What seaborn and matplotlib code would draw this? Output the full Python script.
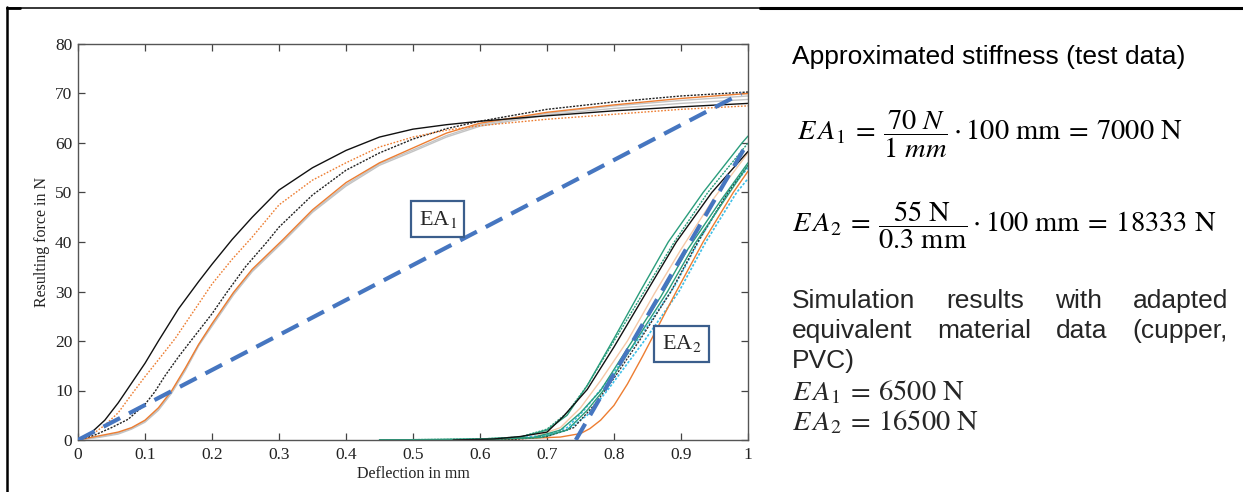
import matplotlib
matplotlib.use("Agg")
import matplotlib.pyplot as plt
import seaborn as sns
import numpy as np
from matplotlib.lines import Line2D

# ---------------- data ----------------
# Test curves (EA1 region)
t_black_x = [0, .02, .04, .06, .08, .10, .12, .15, .18, .20, .23, .26, .30, .35, .40, .45, .50, .55, .60, .70, .80, .90, 1.0]
t_black_y = [0, 1.5, 4, 7.5, 11.5, 15.5, 20, 26.5, 32, 35.5, 40.5, 45, 50.5, 55, 58.5, 61.2, 62.8, 63.7, 64.4, 65.5, 66.5, 67.3, 68]

t_orange_dot_x = [0, .02, .04, .06, .08, .10, .12, .145, .17, .20, .23, .26, .30, .35, .40, .45, .50, .55, .60, .70, .80, .90, 1.0]
t_orange_dot_y = [0, 1, 3, 5.5, 9.2, 12.8, 16.2, 20.5, 25.5, 31.5, 36.5, 41, 47.5, 52.5, 56, 59.2, 61.2, 62.6, 63.5, 64.8, 65.8, 66.8, 67.5]

t_black_dot_x = [0, .025, .05, .075, .10, .115, .13, .15, .17, .20, .222, .25, .282, .30, .35, .38, .40, .45, .50, .55, .60, .70, .80, .90, 1.0]
t_black_dot_y = [0, 1, 2.5, 4.2, 7.2, 9.8, 13, 16.8, 20.3, 25.5, 29.8, 35, 40, 43, 49.5, 52.5, 54.5, 58, 60.8, 62.9, 64.4, 66.8, 68.3, 69.5, 70.3]

t_orange_x = [0, .03, .06, .08, .10, .12, .14, .16, .18, .20, .232, .26, .306, .35, .40, .45, .50, .55, .60, .70, .80, .90, 1.0]
t_orange_y = [0, 0.8, 1.6, 2.5, 4, 6.5, 10, 14.5, 19.3, 23.5, 29.8, 34.5, 40.5, 46.5, 52, 56, 59, 62, 64, 66.2, 67.7, 69, 70]

t_gray1_x = [0, .03, .06, .08, .10, .12, .14, .16, .18, .20, .232, .26, .306, .35, .40, .45, .50, .55, .60, .70, .80, .90, 1.0]
t_gray1_y = [0, 0.5, 1.2, 2.2, 3.6, 6, 9.5, 14, 19, 23, 29.3, 34, 40, 46, 51.3, 55.5, 58.3, 61.2, 63.4, 65.7, 67, 68, 68.8]
t_gray2_y = [0, 0.6, 1.4, 2.4, 3.8, 6.2, 9.8, 14.2, 19.2, 23.2, 29.6, 34.2, 40.2, 46.2, 51.6, 55.8, 58.6, 61.5, 63.7, 66.0, 67.5, 68.6, 69.5]

# Simulation curves (EA2 region)
s_green1_x = [0.45, 0.6, 0.66, 0.70, 0.73, 0.76, 0.80, 0.839, 0.881, 0.933, 0.991, 1.0]
s_green1_y = [0, 0.2, 0.6, 2.0, 5.0, 11.0, 20.5, 30, 40, 50, 60, 61.4]
s_green2_x = [0.45, 0.6, 0.66, 0.70, 0.73, 0.76, 0.80, 0.845, 0.89, 0.94, 1.0]
s_green2_y = [0, 0.2, 0.6, 2.2, 5.5, 11.0, 20, 30, 40, 50, 60]
s_green3_x = [0.45, 0.6, 0.68, 0.72, 0.75, 0.78, 0.82, 0.87, 0.91, 0.96, 1.0]
s_green3_y = [0, 0.1, 0.5, 2.0, 5.5, 10, 18.5, 29, 38.5, 48.5, 56]
s_green4_x = [0.45, 0.6, 0.69, 0.73, 0.76, 0.79, 0.83, 0.88, 0.92, 0.97, 1.0]
s_green4_y = [0, 0.1, 0.5, 2.0, 6.0, 11, 19.5, 30, 39.5, 49.5, 55.5]
s_black_x = [0.56, 0.62, 0.66, 0.70, 0.724, 0.76, 0.80, 0.849, 0.893, 0.946, 1.0]
s_black_y = [0, 0.2, 0.7, 1.6, 4.7, 10.2, 18.8, 30, 40, 50, 58.3]
s_peach_x = [0.58, 0.63, 0.68, 0.72, 0.75, 0.78, 0.82, 0.86, 0.90, 0.95, 1.0]
s_peach_y = [0, 0.1, 0.6, 2.5, 6.5, 12, 20, 29.5, 38.5, 49, 58]
s_black_dot_x = [0.6, 0.65, 0.70, 0.74, 0.77, 0.80, 0.84, 0.885, 0.925, 0.97, 1.0]
s_black_dot_y = [0, 0.1, 0.7, 2.5, 7, 12.5, 20.5, 30, 40, 50, 55.5]
s_cyan1_x = [0.55, 0.65, 0.70, 0.73, 0.76, 0.79, 0.845, 0.897, 0.937, 0.983, 1.0]
s_cyan1_y = [0, 0.3, 0.8, 2.0, 5.0, 10, 20, 30, 40, 50, 52.8]
s_cyan2_x = [0.55, 0.65, 0.70, 0.73, 0.755, 0.785, 0.84, 0.89, 0.93, 0.975, 1.0]
s_cyan2_y = [0, 0.3, 1.0, 2.5, 6.0, 11, 21, 31, 41, 51, 55]
s_orange_x = [0.6, 0.65, 0.72, 0.75, 0.764, 0.78, 0.80, 0.82, 0.843, 0.868, 0.893, 0.933, 0.978, 1.0]
s_orange_y = [0, 0.2, 0.6, 1.3, 2.3, 4.0, 7.0, 11.3, 17, 23.5, 30, 40, 50, 54.3]

# Approximated stiffness lines
ea1_x = [0, 0.99]
ea1_y = [0, 70]
ea2_x = [0.743, 0.997]
ea2_y = [0, 59.5]

x_ticks = [0, 0.1, 0.2, 0.3, 0.4, 0.5, 0.6, 0.7, 0.8, 0.9, 1]
x_ticklabels = ["0", "0.1", "0.2", "0.3", "0.4", "0.5", "0.6", "0.7", "0.8", "0.9", "1"]
y_ticks = [0, 10, 20, 30, 40, 50, 60, 70, 80]

# ---------------- style ----------------
sns.set_theme(style="ticks")
plt.rcParams["font.family"] = ["Liberation Serif", "DejaVu Serif"]
plt.rcParams["mathtext.fontset"] = "stix"

W, H = 1243, 492
fig = plt.figure(figsize=(W / 100, H / 100), dpi=100)
fig.patch.set_facecolor("white")
ax = fig.add_axes([78 / W, 1 - 440 / H, 670 / W, 396 / H])
ax.set_facecolor("white")

GREEN = "#2a9d7c"
CYAN = "#3cbfe8"
ORANGE = "#ed7d31"
BLUE = "#4676c0"
GRAY = "#c4c4c4"
PEACH = "#f6c9a8"

def line(x, y, color, lw=1.0, ls="-", z=2, alpha=1.0):
    sns.lineplot(x=x, y=y, ax=ax, color=color, linewidth=lw, linestyle=ls,
                 estimator=None, sort=False, zorder=z, alpha=alpha)

# test curves
line(t_gray1_x, t_gray1_y, GRAY, lw=1.0)
line(t_gray1_x, t_gray2_y, GRAY, lw=1.0)
line(t_orange_x, t_orange_y, ORANGE, lw=1.0)
line(t_black_dot_x, t_black_dot_y, "#222222", lw=1.0, ls=(0, (1.5, 1)))
line(t_orange_dot_x, t_orange_dot_y, ORANGE, lw=1.0, ls=(0, (1.2, 1.2)))
line(t_black_x, t_black_y, "#111111", lw=1.0)

# simulation curves
line(s_peach_x, s_peach_y, PEACH, lw=1.0)
line(s_cyan1_x, s_cyan1_y, CYAN, lw=1.2, ls=(0, (1.5, 1)))
line(s_cyan2_x, s_cyan2_y, CYAN, lw=1.2, ls=(0, (1.5, 1)))
line(s_orange_x, s_orange_y, ORANGE, lw=1.0)
line(s_black_dot_x, s_black_dot_y, "#333333", lw=1.0, ls=(0, (1.5, 1)))
line(s_green4_x, s_green4_y, GREEN, lw=1.0)
line(s_green3_x, s_green3_y, GREEN, lw=1.0)
line(s_green2_x, s_green2_y, GREEN, lw=1.0, ls=(0, (1.5, 0.8)))
line(s_green1_x, s_green1_y, GREEN, lw=1.0)
line(s_black_x, s_black_y, "#111111", lw=1.0)

# stiffness approximations
line(ea1_x, ea1_y, BLUE, lw=3.0, ls=(0, (4.5, 2.4)), z=4)
line(ea2_x, ea2_y, BLUE, lw=3.0, ls=(0, (4.5, 2.4)), z=4)

ax.set_xlim(0, 1)
ax.set_ylim(0, 80)
ax.set_xticks(x_ticks)
ax.set_xticklabels(x_ticklabels)
ax.set_yticks(y_ticks)
ax.tick_params(direction="in", length=5, width=0.9, colors="#444444",
               labelcolor="#222222", labelsize=12.5, top=True, right=True, pad=4)
ax.tick_params(axis="x", pad=5)
for s in ax.spines.values():
    s.set_color("#555555")
    s.set_linewidth(1.0)
    s.set_visible(True)
ax.set_xlabel("Deflection in mm", fontsize=11.5, color="#222222", labelpad=2)
ax.set_ylabel("Resulting force in N", fontsize=11.5, color="#222222", labelpad=4)

box = dict(boxstyle="square,pad=0.34", facecolor="white", edgecolor="#3b5e8c", linewidth=1.6)
ax.text(0.537, 44.6, r"EA$_{1}$", fontsize=16, ha="center", va="center", bbox=box, zorder=6,
        family=["Liberation Serif"])
ax.text(0.901, 19.4, r"EA$_{2}$", fontsize=16, ha="center", va="center", bbox=box, zorder=6,
        family=["Liberation Serif"])

# ---------------- frame ----------------
def fx(px): return px / W
def fy(py): return 1 - py / H

fig.add_artist(Line2D([fx(7), fx(760)], [fy(7.5), fy(7.5)], color="black", lw=1.1, transform=fig.transFigure))
fig.add_artist(Line2D([fx(7), fx(20)], [fy(7.5), fy(7.5)], color="black", lw=2.0, transform=fig.transFigure))
fig.add_artist(Line2D([fx(760), 1.0], [fy(8), fy(8)], color="black", lw=2.2, transform=fig.transFigure))
fig.add_artist(Line2D([fx(7), fx(7)], [0, fy(7)], color="black", lw=1.8, transform=fig.transFigure))

# ---------------- right side text ----------------
SANS = ["Liberation Sans", "DejaVu Sans"]
TXT = 19
fig.text(fx(792), fy(64), "Approximated stiffness (test data)", fontsize=TXT, family=SANS,
         ha="left", va="baseline", color="black")

MATH = 20.5
fig.text(fx(797), fy(134),
         r"$E\,A_1 \:=\: \dfrac{70\ N}{1\ mm} \cdot 100\ \mathrm{mm} \:=\: 7000\ \mathrm{N}$",
         fontsize=MATH, ha="left", va="center", color="black")
fig.text(fx(792), fy(225),
         r"$E\,A_2 \:=\: \dfrac{55\ \mathrm{N}}{0.3\ \mathrm{mm}} \cdot 100\ \mathrm{mm} \:=\: 18333\ \mathrm{N}$",
         fontsize=MATH, ha="left", va="center", color="black")

renderer = fig.canvas.get_renderer()

def justified(words, y, x0=792, x1=1228):
    arts = [fig.text(0, fy(y), w, fontsize=TXT, family=SANS, ha="left", va="baseline") for w in words]
    widths = [a.get_window_extent(renderer).width for a in arts]
    gap = (x1 - x0 - sum(widths)) / (len(words) - 1)
    x = x0
    for a, w in zip(arts, widths):
        a.set_x(fx(x))
        x += w + gap

justified(["Simulation", "results", "with", "adapted"], 308)
justified(["equivalent", "material", "data", "(cupper,"], 338)
fig.text(fx(792), fy(368), "PVC)", fontsize=TXT, family=SANS, ha="left", va="baseline")
fig.text(fx(792), fy(400), r"$E\,A_1 \:=\: 6500\ \mathrm{N}$", fontsize=MATH, ha="left", va="baseline")
fig.text(fx(792), fy(430), r"$E\,A_2 \:=\: 16500\ \mathrm{N}$", fontsize=MATH, ha="left", va="baseline")

fig.savefig("out.png", dpi=100, facecolor="white")
